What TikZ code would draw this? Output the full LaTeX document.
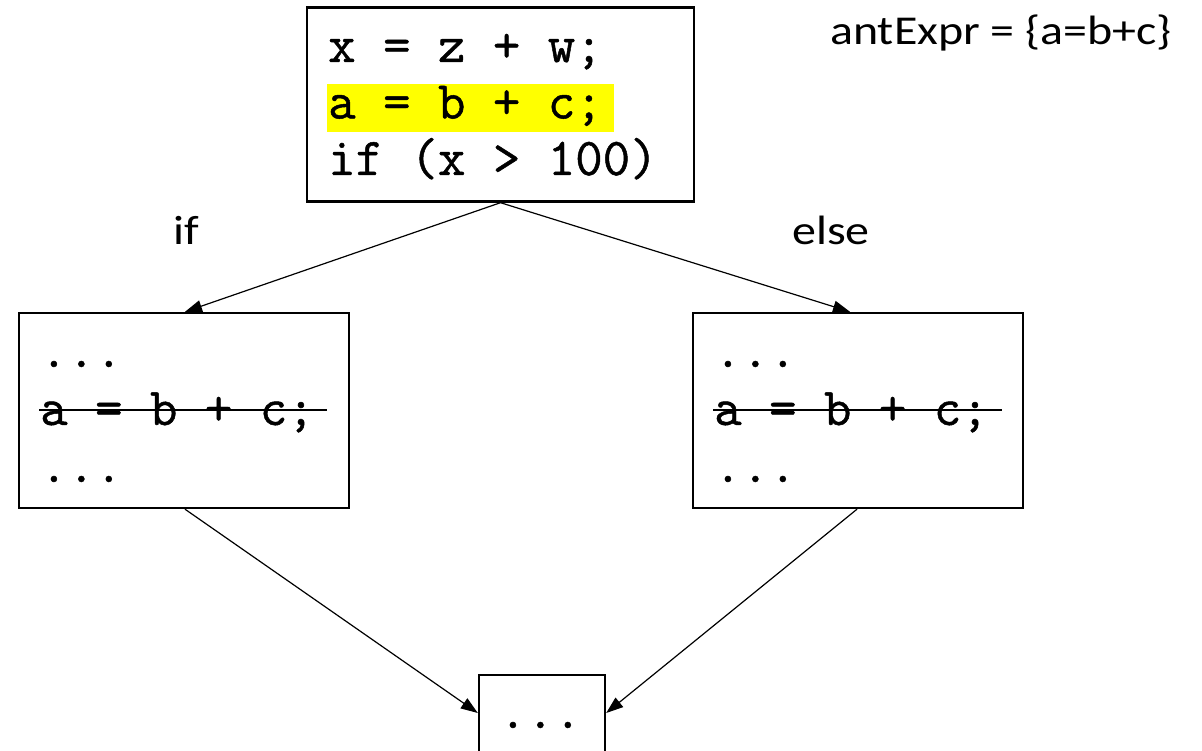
\documentclass[tikz,border=0pt]{standalone}
\usepackage{fontspec}
\setmainfont{Carlito}
\newfontfamily\codefont[FakeBold=0.9]{Latin Modern Mono}
\usetikzlibrary{arrows.meta}
\definecolor{hl}{RGB}{255,255,0}
\tikzset{
  box/.style={draw=black, line width=2.4pt, inner sep=0pt, fill=white},
  code/.style={inner sep=0pt, anchor=base west, font=\fontsize{53.3}{60}\codefont},
  lbl/.style={inner sep=0pt, anchor=base west, font=\fontsize{41}{50}\selectfont},
  edge/.style={draw=black, line width=1.2pt, -{Triangle[length=17pt,width=12pt]}},
  strike/.style={line width=2pt}
}
\newcommand{\wide}[1]{\scalebox{1.17}[1]{#1}}
\begin{document}
\begin{tikzpicture}[x=1pt,y=-1pt]
\clip (0,0) rectangle (1202,751);
\fill[white] (0,0) rectangle (1202,751);
% boxes
\node[box, minimum width=387pt, minimum height=194pt] (top) at (500.5,104.5) {};
\node[box, minimum width=330pt, minimum height=195pt] (lb) at (184,410.5) {};
\node[box, minimum width=330pt, minimum height=195pt] (rb) at (858,410.5) {};
\node[box, minimum width=126pt, minimum height=110pt] (bb) at (542,730) {};
% top box text
\fill[hl] (327,84) rectangle (614,132);
\node[code] (t1) at (328,62) {x = z + w;};
\node[code] (t2) at (328,118.5) {a = b + c;};
\node[code] (t3) at (328,175) {if (x > 100)};
% left box text
\node[code] (l1) at (40,367) {...};
\node[code] (l2) at (40,425) {a = b + c;};
\node[code] (l3) at (40,482) {...};
\draw[strike] (39,410) -- (327,410);
% right box text
\node[code] (r1) at (714,367) {...};
\node[code] (r2) at (714,425) {a = b + c;};
\node[code] (r3) at (714,482) {...};
\draw[strike] (713,410) -- (1002,410);
% bottom box text
\node[code] (b1) at (499,728) {...};
% labels
\node[lbl] (ant) at (830,45) {\wide{antExpr = \{a=b+c\}}};
\node[lbl] (lif) at (173,245) {\wide{if}};
\node[lbl] (lelse) at (792,245) {\wide{else}};
% connectors
\draw[edge] (top.south) -- ([xshift=1pt]lb.north);
\draw[edge] (top.south) -- ([xshift=-8pt]rb.north);
\draw[edge] ([xshift=1pt]lb.south) -- ([yshift=17pt]bb.west);
\draw[edge] ([xshift=-1pt]rb.south) -- ([yshift=17pt]bb.east);
\end{tikzpicture}
\end{document}
